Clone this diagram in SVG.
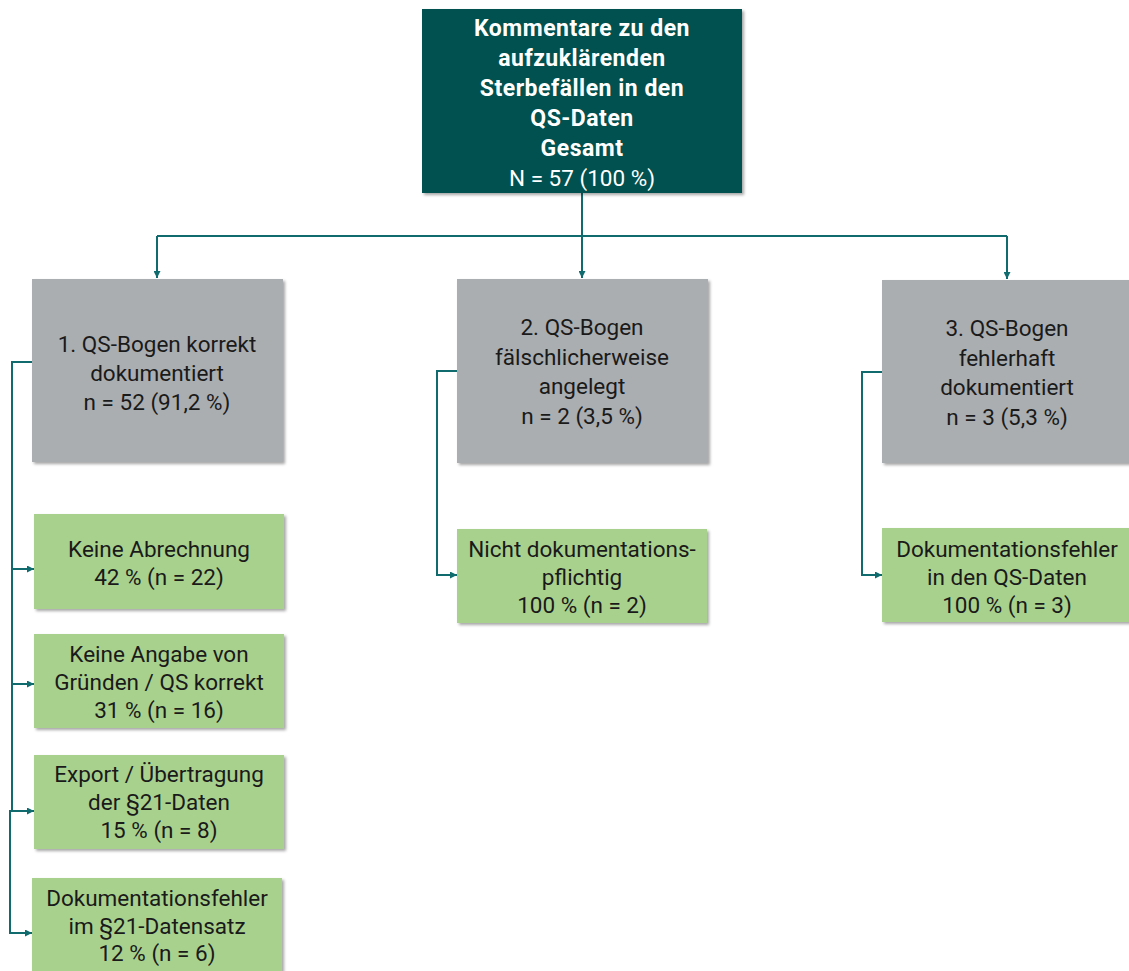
<svg xmlns="http://www.w3.org/2000/svg" width="1129" height="971" viewBox="0 0 1129 971">
<style>
.dark{fill:#00514F}
.gray{fill:#AAAEB1}
.green{fill:#A9D18E}
text{font-family:Roboto,"Liberation Sans",sans-serif;font-size:22.5px;text-anchor:middle;fill:#1a1a1a}
.w{fill:#ffffff}
.b{font-weight:bold;font-size:23px;letter-spacing:0.5px}
.con{fill:none;stroke:#0F6B6E;stroke-width:2}
</style>
<defs>
<filter id="sh" x="-10%" y="-10%" width="130%" height="130%">
<feDropShadow dx="2" dy="2" stdDeviation="1.5" flood-color="#000" flood-opacity="0.35"/>
</filter>
<marker id="ar" viewBox="0 0 10 10" refX="10" refY="5" markerWidth="7" markerHeight="7" orient="auto" markerUnits="userSpaceOnUse">
<path d="M0,0 L10,5 L0,10 z" fill="#0F6B6E"/>
</marker>
</defs>
<g id="connectors">
<path class="con" d="M582,193 V278" marker-end="url(#ar)"/>
<path class="con" d="M157,236 H1007"/>
<path class="con" d="M157,236 V278" marker-end="url(#ar)"/>
<path class="con" d="M1007,236 V279" marker-end="url(#ar)"/>
<path class="con" d="M32,362 H12 V811"/>
<path class="con" d="M12,569 H34" marker-end="url(#ar)"/>
<path class="con" d="M12,684 H34" marker-end="url(#ar)"/>
<path class="con" d="M12,811 H34" marker-end="url(#ar)"/>
<path class="con" d="M12,811 H10 V933 H32" marker-end="url(#ar)"/>
<path class="con" d="M457,371 H437 V575 H457" marker-end="url(#ar)"/>
<path class="con" d="M882,372 H862 V575 H882" marker-end="url(#ar)"/>
</g>
<g id="root">
<rect class="dark" x="422" y="9" width="320" height="184" filter="url(#sh)"/>
<text class="w b" x="582" y="35.5">Kommentare zu den</text>
<text class="w b" x="582" y="65.5">aufzuklärenden</text>
<text class="w b" x="582" y="95.5">Sterbefällen in den</text>
<text class="w b" x="582" y="125.5">QS-Daten</text>
<text class="w b" x="582" y="155.5">Gesamt</text>
<text class="w" x="582" y="185.5">N = 57 (100 %)</text>
</g>
<g id="cat1">
<rect class="gray" x="32" y="279" width="251" height="183" filter="url(#sh)"/>
<text x="157" y="352">1. QS-Bogen korrekt</text>
<text x="157" y="381">dokumentiert</text>
<text x="157" y="410">n = 52 (91,2 %)</text>
</g>
<g id="cat2">
<rect class="gray" x="457" y="279" width="251" height="184" filter="url(#sh)"/>
<text x="582" y="335">2. QS-Bogen</text>
<text x="582" y="365">fälschlicherweise</text>
<text x="582" y="394">angelegt</text>
<text x="582" y="424">n = 2 (3,5 %)</text>
</g>
<g id="cat3">
<rect class="gray" x="882" y="280" width="251" height="183" filter="url(#sh)"/>
<text x="1007" y="336">3. QS-Bogen</text>
<text x="1007" y="366">fehlerhaft</text>
<text x="1007" y="395">dokumentiert</text>
<text x="1007" y="425">n = 3 (5,3 %)</text>
</g>
<g id="sub1a">
<rect class="green" x="34" y="514" width="250" height="95" filter="url(#sh)"/>
<text x="159" y="557">Keine Abrechnung</text>
<text x="159" y="585">42 % (n = 22)</text>
</g>
<g id="sub1b">
<rect class="green" x="34" y="634" width="250" height="94" filter="url(#sh)"/>
<text x="159" y="662">Keine Angabe von</text>
<text x="159" y="690">Gründen / QS korrekt</text>
<text x="159" y="718">31 % (n = 16)</text>
</g>
<g id="sub1c">
<rect class="green" x="34" y="755" width="250" height="94" filter="url(#sh)"/>
<text x="159" y="782">Export / Übertragung</text>
<text x="159" y="810">der §21-Daten</text>
<text x="159" y="838">15 % (n = 8)</text>
</g>
<g id="sub1d">
<rect class="green" x="32" y="878" width="250" height="95" filter="url(#sh)"/>
<text x="157" y="906">Dokumentationsfehler</text>
<text x="157" y="934">im §21-Datensatz</text>
<text x="157" y="961">12 % (n = 6)</text>
</g>
<g id="sub2">
<rect class="green" x="457" y="529" width="250" height="94" filter="url(#sh)"/>
<text x="582" y="557">Nicht dokumentations-</text>
<text x="582" y="585">pflichtig</text>
<text x="582" y="613">100 % (n = 2)</text>
</g>
<g id="sub3">
<rect class="green" x="882" y="528" width="251" height="94" filter="url(#sh)"/>
<text x="1007" y="557">Dokumentationsfehler</text>
<text x="1007" y="585">in den QS-Daten</text>
<text x="1007" y="613">100 % (n = 3)</text>
</g>
</svg>
